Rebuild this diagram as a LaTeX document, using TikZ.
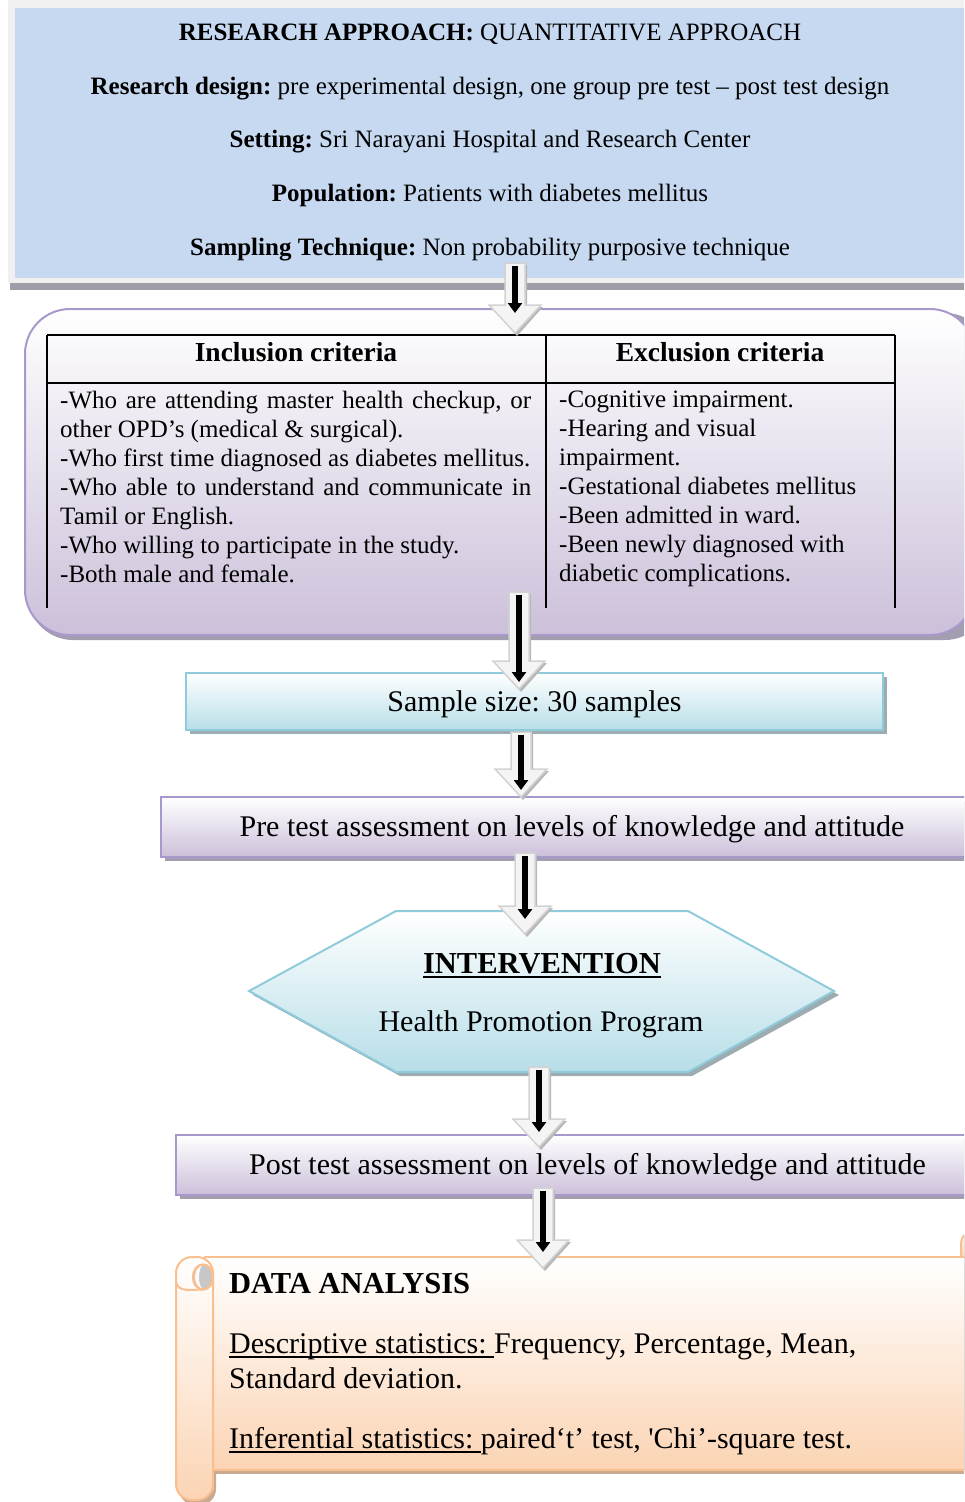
\documentclass[tikz,border=0pt]{standalone}
\usepackage{fontspec}
\setmainfont{Liberation Serif}
\frenchspacing
\newcommand\ulnx[1]{\setbox0\hbox{#1}\rlap{\rule[-4.5pt]{\wd0}{1.8pt}}\box0}
\usetikzlibrary{arrows.meta,calc}
\definecolor{topblue}{HTML}{C6D9F1}
\definecolor{framegray}{HTML}{F0F0F0}
\definecolor{topshadow}{HTML}{A19DA8}
\definecolor{lavfill}{HTML}{CCC0DA}
\definecolor{lavborder}{HTML}{A898CB}
\definecolor{lavshadow}{HTML}{A39DB0}
\definecolor{aquafill}{HTML}{B7DEE8}
\definecolor{aquaborder}{HTML}{8FCBDB}
\definecolor{aquashadow}{HTML}{9CACB0}
\definecolor{peachfill}{HTML}{FBD4B4}
\definecolor{peachborder}{HTML}{F9BF8F}
\definecolor{peachshadow}{HTML}{C9AA92}
\definecolor{arrowfill}{HTML}{F4F4F4}
\definecolor{arrowedge}{HTML}{D2D2D2}
\definecolor{arrowshadow}{HTML}{B8B8B8}
\newcommand\blockarr[3]{%
  \fill[arrowshadow] ($(#1)+(-7,2)$) -- ($(#1)+(12,2)$) -- ($(#2)+(12,-26)$) -- ($(#2)+(28,-26)$) -- ($(#2)+(2,3)$) -- ($(#2)+(-23,-26)$) -- ($(#2)+(-7,-26)$) -- cycle;
  \filldraw[barrow] ($(#1)+(-10,0)$) -- ($(#1)+(10,0)$) -- ($(#2)+(10,-28)$) -- ($(#2)+(26,-28)$) -- (#2) -- ($(#2)+(-26,-28)$) -- ($(#2)+(-10,-28)$) -- cycle;
  \draw[blackarrow] ($(#1)+(0,3)$) -- ($(#2)+(0,-#3)$);
}
\begin{document}
\begin{tikzpicture}[x=1pt,y=-1pt,
  barrow/.style={fill=arrowfill, draw=arrowedge, line width=1.5pt, line join=miter},
  blackarrow/.style={line width=6pt, -{Triangle[width=14pt,length=10pt]}},
  box/.style={line width=2pt, inner sep=0pt, outer sep=0pt},
  aquabox/.style={box, draw=aquaborder, top color=white, bottom color=aquafill},
  lavbox/.style={box, draw=lavborder, top color=white, bottom color=lavfill},
  peach/.style={draw=peachborder, line width=2pt, top color=white, bottom color=peachfill},
  topfont/.style={font=\fontsize{25}{29}\selectfont, inner sep=0pt},
  headfont/.style={font=\fontsize{27.5}{30}\selectfont\bfseries, inner sep=0pt},
  cellfont/.style={font=\fontsize{25}{29}\selectfont, inner sep=0pt, align=left},
  bigfont/.style={font=\fontsize{30}{35}\selectfont},
  boxtext/.style={bigfont, text height=22pt, text depth=3pt},
  boldbig/.style={font=\fontsize{30.5}{35}\selectfont\bfseries},
  rule/.style={line width=2pt},
  thinrule/.style={line width=1.5pt}
]
\useasboundingbox (0,0) rectangle (964,1502);
\begin{scope}
\clip (0,0) rectangle (964,1502);
% ---------- top box
\fill[framegray] (8,0) rectangle (980,283);
\fill[topshadow] (10,283) rectangle (980,290);
\node[fill=topblue, minimum width=960pt, minimum height=270pt, inner sep=0pt] (approach) at (495,143) {};
\node[topfont, anchor=base] (t1) at (490,40) {\textbf{RESEARCH APPROACH:} QUANTITATIVE APPROACH};
\node[topfont, anchor=base] (t2) at (490,94) {\textbf{Research design:} pre experimental design, one group pre test – post test design};
\node[topfont, anchor=base] (t3) at (490,147) {\textbf{Setting:} Sri Narayani Hospital and Research Center};
\node[topfont, anchor=base] (t4) at (490,201) {\textbf{Population:} Patients with diabetes mellitus};
\node[topfont, anchor=base] (t5) at (490,255) {\textbf{Sampling Technique:} Non probability purposive technique};

% ---------- criteria box
\fill[lavshadow, rounded corners=45pt] (28,313) rectangle (990,640);
\node[box, draw=lavborder, top color=white, bottom color=lavfill, rounded corners=45pt, minimum width=950pt, minimum height=326pt] (criteria) at (500,472) {};
\draw[rule] (47,335) -- (895,335);
\draw[rule] (47,383) -- (895,383);
\draw[thinrule] (47,335) -- (47,608);
\draw[thinrule] (546,335) -- (546,608);
\draw[thinrule] (895,335) -- (895,608);
\node[headfont, anchor=base] (inclh) at (296,361) {Inclusion criteria};
\node[headfont, anchor=base] (exclh) at (720,361) {Exclusion criteria};
\node[cellfont, anchor=north west] (incl) at (60,391) {\hbox to 471pt{-Who are attending master health checkup, or}\\
other OPD’s (medical \& surgical).\\
-Who first time diagnosed as diabetes mellitus.\\
\hbox to 471pt{-Who able to understand and communicate in}\\
Tamil or English.\\
-Who willing to participate in the study.\\
-Both male and female.};
\node[cellfont, anchor=north west] (excl) at (559,391) {-Cognitive impairment.\\
-Hearing and visual\\
impairment.\\
-Gestational diabetes mellitus\\
-Been admitted in ward.\\
-Been newly diagnosed with\\
diabetic complications.};

% ---------- sample size
\fill[aquashadow] (190,677) rectangle (887,734);
\node[aquabox, minimum width=697pt, minimum height=57pt, boxtext] (sample) at (534.5,701.5) {Sample size: 30 samples};

% ---------- pre test
\fill[lavshadow] (165,801) rectangle (990,861);
\node[lavbox, minimum width=822pt, minimum height=60pt, boxtext] (pre) at (572,827) {Pre test assessment on levels of knowledge and attitude};

% ---------- intervention hexagon
\fill[aquashadow] (253,995) -- (400,915) -- (692,915) -- (839,995) -- (692,1076) -- (400,1076) -- cycle;
\filldraw[aquabox] (249,991) -- (396,911) -- (688,911) -- (834,991) -- (688,1072) -- (396,1072) -- cycle;
\node[boldbig, anchor=base, inner sep=0pt] (interv) at (542,973) {\ulnx{INTERVENTION}};
\node[bigfont, anchor=base, inner sep=0pt] (hpp) at (541,1031) {Health Promotion Program};

% ---------- post test
\fill[lavshadow] (180,1139) rectangle (1005,1199);
\node[lavbox, minimum width=823pt, minimum height=60pt, boxtext] (post) at (587.5,1165) {Post test assessment on levels of knowledge and attitude};

% ---------- data analysis scroll
\fill[peachshadow] (213,1262) rectangle (990,1474);
\fill[peachshadow, rounded corners=16pt] (179,1262) rectangle (216,1505);
\filldraw[peach] (961,1258) -- (961,1244) to[out=90,in=180] (976,1230) -- (990,1230) -- (990,1258) -- cycle;
\filldraw[peach] (205,1257) rectangle (990,1470);
\filldraw[peach, rounded corners=16pt] (176,1257) rectangle (213,1500);
\filldraw[draw=peachborder, line width=2pt, fill=black!22] (203,1277) ellipse (10pt and 12.5pt);
\fill[white!85!peachfill] (203,1265.5) arc (90:270:4pt and 11.5pt) arc (270:90:8pt and 11.5pt);
\draw[peachborder, line width=2pt] (203,1277) ellipse (10pt and 12.5pt);
\draw[peachborder, line width=2pt] (213,1277) -- (213,1490);
\draw[peachborder, line width=2pt] (176,1282) to[out=-80,in=180] (203,1289.5);
\node[boldbig, anchor=base west, inner sep=0pt] (dah) at (229,1293) {DATA ANALYSIS};
\node[bigfont, anchor=base west, inner sep=0pt] (desc) at (229,1353) {\ulnx{Descriptive statistics:\ }Frequency, Percentage, Mean,};
\node[bigfont, anchor=base west, inner sep=0pt] (sd) at (229,1388) {Standard deviation.};
\node[bigfont, anchor=base west, inner sep=0pt] (infer) at (229,1448) {\ulnx{Inferential statistics:\ }paired‘t’ test, \textquotesingle Chi’-square test.};

% ---------- arrows
\coordinate (a1s) at (515,263); \coordinate (a1e) at (515,333);
\coordinate (a2s) at (519,592); \coordinate (a2e) at (519,689);
\coordinate (a3s) at (521,732); \coordinate (a3e) at (521,797);
\coordinate (a4s) at (525,853); \coordinate (a4e) at (525,934);
\coordinate (a5s) at (539,1067); \coordinate (a5e) at (539,1147);
\coordinate (a6s) at (543,1188); \coordinate (a6e) at (543,1268);
\blockarr{a1s}{a1e}{20}
\blockarr{a2s}{a2e}{7}
\blockarr{a3s}{a3e}{7}
\blockarr{a4s}{a4e}{15}
\blockarr{a5s}{a5e}{15}
\blockarr{a6s}{a6e}{16}
\end{scope}
\end{tikzpicture}
\end{document}
